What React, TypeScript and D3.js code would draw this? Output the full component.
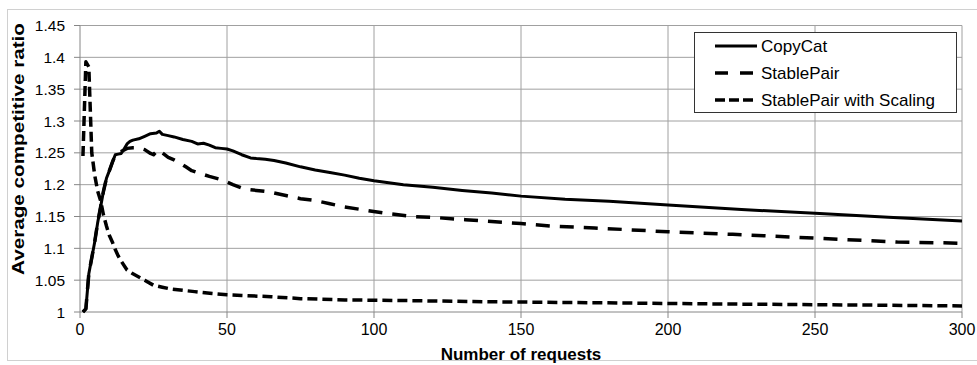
import React from 'react';
import * as d3 from 'd3';

// CopyCat (solid)
const copyCatX = [1, 2, 3, 4, 5, 6, 7, 8, 9, 10, 11, 12, 13, 14, 15, 16, 17, 18, 20, 22, 24, 26, 27, 28, 30, 32, 35, 38, 40, 42, 44, 46, 48, 50, 52, 55, 58, 60, 63, 66, 70, 75, 80, 85, 90, 95, 100, 105, 110, 120, 130, 140, 150, 165, 180, 200, 225, 250, 275, 300];
const copyCatY = [1.0, 1.005, 1.06, 1.085, 1.11, 1.14, 1.165, 1.19, 1.21, 1.222, 1.235, 1.247, 1.248, 1.249, 1.256, 1.264, 1.268, 1.27, 1.272, 1.276, 1.28, 1.281, 1.284, 1.279, 1.277, 1.275, 1.271, 1.268, 1.264, 1.265, 1.262, 1.258, 1.257, 1.256, 1.253, 1.247, 1.242, 1.241, 1.24, 1.238, 1.234, 1.228, 1.223, 1.219, 1.215, 1.21, 1.206, 1.203, 1.2, 1.196, 1.191, 1.187, 1.182, 1.177, 1.174, 1.168, 1.161, 1.155, 1.149, 1.143];

// StablePair (long dash)
const stablePairX = [1, 2, 3, 4, 5, 6, 7, 8, 9, 10, 11, 12, 13, 14, 16, 18, 20, 22, 24, 25, 26, 27, 28, 30, 32, 34, 36, 38, 40, 44, 48, 52, 56, 60, 64, 70, 75, 80, 85, 90, 97, 104, 113, 122, 131, 140, 150, 160, 175, 200, 222, 250, 278, 300];
const stablePairY = [1.0, 1.005, 1.06, 1.085, 1.11, 1.14, 1.165, 1.19, 1.21, 1.222, 1.235, 1.247, 1.25, 1.252, 1.257, 1.258, 1.258, 1.255, 1.249, 1.247, 1.252, 1.255, 1.25, 1.243, 1.239, 1.234, 1.228, 1.222, 1.219, 1.213, 1.208, 1.2, 1.193, 1.191, 1.189, 1.183, 1.178, 1.175, 1.17, 1.165, 1.16, 1.155, 1.15, 1.148, 1.145, 1.142, 1.139, 1.135, 1.132, 1.126, 1.122, 1.116, 1.11, 1.108];

// StablePair with Scaling (short dash)
const scalingX = [1, 2, 3, 4, 5, 6, 7, 8, 9, 10, 11, 12, 13, 14, 16, 18, 20, 22, 25, 28, 31, 35, 39, 45, 50, 55, 65, 75, 90, 110, 140, 175, 220, 265, 300];
const scalingY = [1.245, 1.393, 1.385, 1.25, 1.215, 1.19, 1.175, 1.152, 1.135, 1.12, 1.11, 1.098, 1.088, 1.08, 1.066, 1.06, 1.055, 1.05, 1.042, 1.039, 1.036, 1.034, 1.032, 1.029, 1.027, 1.026, 1.024, 1.021, 1.019, 1.018, 1.016, 1.0146, 1.0125, 1.011, 1.0095];

const seriesNames = ['CopyCat', 'StablePair', 'StablePair with Scaling'];
const xTicks = [0, 50, 100, 150, 200, 250, 300];
const yTicks = [1, 1.05, 1.1, 1.15, 1.2, 1.25, 1.3, 1.35, 1.4, 1.45];

const W = 977;
const H = 365;
const font = '"Liberation Sans", Arial, sans-serif';

export default function App() {
  const x = d3.scaleLinear().domain([0, 300]).range([80, 962]);
  const y = d3.scaleLinear().domain([1, 1.45]).range([312, 25.5]);

  const line = d3
    .line<[number, number]>()
    .x((d) => x(d[0]))
    .y((d) => y(d[1]));

  const series = [
    { name: seriesNames[0], pts: copyCatX.map((v, i) => [v, copyCatY[i]] as [number, number]), dash: 'none', w: 3 },
    { name: seriesNames[1], pts: stablePairX.map((v, i) => [v, stablePairY[i]] as [number, number]), dash: '14,10', w: 3.5 },
    { name: seriesNames[2], pts: scalingX.map((v, i) => [v, scalingY[i]] as [number, number]), dash: '10,5', w: 3.5 },
  ];
  const legendDash = ['none', '13,12', '10,4'];

  const x0 = x.range()[0];
  const x1 = x.range()[1];
  const y0 = y.range()[0];
  const y1 = y.range()[1];

  return (
    <svg
      width={W}
      height={H}
      style={{ position: 'absolute', left: 0, top: 0, background: '#fff' }}
      fontFamily={font}
    >
      {/* chart border */}
      <rect x={7.5} y={9.5} width={980} height={351} fill="#fff" stroke="#d0d0d0" />

      {/* gridlines */}
      {yTicks.filter((t) => t > 1).map((t) => (
        <line key={'gy' + t} x1={x0} x2={x1} y1={y(t)} y2={y(t)} stroke="#a0a0a0" />
      ))}
      {xTicks.filter((t) => t > 0).map((t) => (
        <line key={'gx' + t} x1={x(t)} x2={x(t)} y1={y1} y2={y0} stroke="#a0a0a0" />
      ))}

      {/* axes */}
      <line x1={x0} x2={x0} y1={y1} y2={y0} stroke="#868686" />
      <line x1={x0} x2={x1} y1={y0} y2={y0} stroke="#868686" />
      {yTicks.map((t) => (
        <g key={'ty' + t}>
          <line x1={x0 - 6} x2={x0} y1={y(t)} y2={y(t)} stroke="#868686" />
          <text x={65} y={y(t)} dy="0.36em" textAnchor="end" fontSize={15.5} fill="#000">
            {String(t)}
          </text>
        </g>
      ))}
      {xTicks.map((t) => (
        <g key={'tx' + t}>
          <line x1={x(t)} x2={x(t)} y1={y0} y2={y0 + 6} stroke="#868686" />
          <text x={x(t)} y={335} textAnchor="middle" fontSize={16} fill="#000">
            {t}
          </text>
        </g>
      ))}

      {/* axis titles */}
      <text x={(x0 + x1) / 2} y={360} textAnchor="middle" fontSize={17} fontWeight="bold" fill="#000">
        Number of requests
      </text>
      <text
        transform="translate(24,149) rotate(-90)"
        x={-126}
        textLength={252}
        lengthAdjust="spacingAndGlyphs"
        fontSize={17}
        fontWeight="bold"
        fill="#000"
      >
        Average competitive ratio
      </text>

      {/* series */}
      {series.map((s) => (
        <path
          key={s.name}
          d={line(s.pts) || ''}
          fill="none"
          stroke="#000"
          strokeWidth={s.w}
          strokeDasharray={s.dash}
          strokeLinejoin="round"
        />
      ))}

      {/* legend */}
      <rect x={694.5} y={32.5} width={262} height={80} fill="#fff" stroke="#333" />
      {series.map((s, i) => (
        <g key={'lg' + i} transform={`translate(0,${46 + i * 27})`}>
          <line x1={715} x2={757} y1={0} y2={0} stroke="#000" strokeWidth={s.w} strokeDasharray={legendDash[i]} />
          <text x={761} y={0} dy="0.36em" fontSize={17} fill="#000">
            {s.name}
          </text>
        </g>
      ))}
    </svg>
  );
}
